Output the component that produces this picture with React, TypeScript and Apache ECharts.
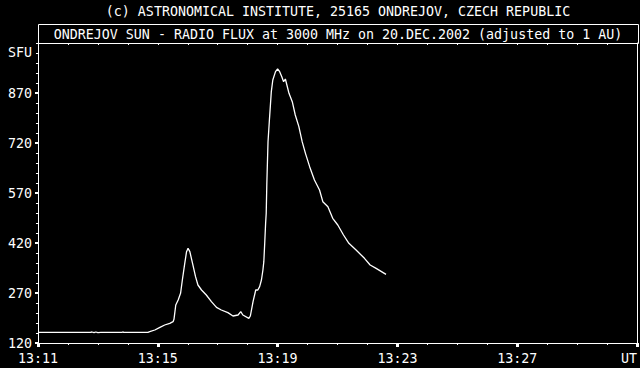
import React, { useEffect, useRef } from "react";
import * as echarts from "echarts";

const TITLE = "(c) ASTRONOMICAL INSTITUTE, 25165 ONDREJOV, CZECH REPUBLIC";
const SUBTITLE = "ONDREJOV SUN - RADIO FLUX at 3000 MHz on 20.DEC.2002 (adjusted to 1 AU)";
const Y_UNIT = "SFU";
const X_UNIT = "UT";

// minutes after 13:11 UT
const minutes = [
  0, 1, 1.75, 1.8, 1.87, 1.93, 2.0, 2.1, 2.8, 2.83, 2.87, 3.67, 3.73, 3.9, 4.07, 4.23, 4.4, 4.51,
  4.54, 4.6, 4.68, 4.76, 4.82, 4.9, 4.96, 5.01, 5.07, 5.16, 5.26, 5.34, 5.46, 5.62, 5.79, 5.96,
  6.12, 6.34, 6.51, 6.68, 6.77, 6.84, 7.04, 7.09, 7.18, 7.27, 7.34, 7.4, 7.46, 7.51, 7.54, 7.57,
  7.6, 7.62, 7.64, 7.68, 7.73, 7.79, 7.84, 7.93, 8.0, 8.07, 8.14, 8.2, 8.26, 8.31, 8.38, 8.49,
  8.59, 8.71, 8.82, 8.93, 9.07, 9.23, 9.4, 9.51, 9.68, 9.84, 10.01, 10.2, 10.38, 10.62, 10.9,
  11.09, 11.29, 11.62,
];
const flux = [
  152, 152, 152, 153, 151, 153, 151, 152, 152, 153, 152, 152, 154, 159, 167, 174, 179, 184,
  191, 234, 249, 269, 309, 359, 394, 404, 394, 359, 319, 294, 279, 264, 244, 227,
  219, 211, 201, 204, 214, 204, 194, 201, 244, 279, 279, 289, 309, 339, 364, 419,
  479, 509, 596, 724, 794, 874, 909, 934, 942, 934, 919, 904, 912, 894, 869, 844,
  804, 769, 724, 689, 649, 609, 579, 544, 529, 494, 474, 444, 419, 399, 374,
  354, 344, 326,
];
const yLabelValues = [120, 270, 420, 570, 720, 870];
const xLabelStartMinute = 11;

const FONT = "'DejaVu Sans Mono', 'Liberation Mono', monospace";
const FS = 13.3;

export default function App() {
  const ref = useRef<HTMLDivElement>(null);
  useEffect(() => {
    if (!ref.current) return;
    const chart = echarts.init(ref.current, null, { renderer: "svg" });
    const data = minutes.map((m, i) => [m, flux[i]]);
    chart.setOption({
      animation: false,
      backgroundColor: "#000000",
      textStyle: { fontFamily: FONT },
      grid: { left: 38, right: 2, top: 43, bottom: 25, containLabel: false },
      graphic: [
        {
          type: "text",
          x: 338,
          y: 11,
          style: { text: TITLE, fill: "#fff", font: `${FS}px ${FONT}`, align: "center", verticalAlign: "middle" },
        },
        {
          type: "rect",
          shape: { x: 38.5, y: 24.5, width: 600, height: 19 },
          style: { fill: "#000", stroke: "#fff", lineWidth: 1 },
        },
        {
          type: "text",
          x: 338,
          y: 34,
          style: { text: SUBTITLE, fill: "#fff", font: `${FS}px ${FONT}`, align: "center", verticalAlign: "middle" },
        },
        {
          type: "text",
          x: 32,
          y: 52,
          style: { text: Y_UNIT, fill: "#fff", font: `${FS}px ${FONT}`, align: "right", verticalAlign: "middle" },
        },
      ],
      xAxis: [
        {
          type: "value",
          min: 0,
          max: 20,
          interval: 4,
          position: "bottom",
          axisLine: { show: true, lineStyle: { color: "#fff", width: 1 } },
          axisTick: { show: true, length: 4, lineStyle: { color: "#fff", width: 3 } },
          minorTick: { show: true, splitNumber: 4, length: 2, lineStyle: { color: "#fff", width: 1 } },
          splitLine: { show: false },
          axisLabel: {
            color: "#fff",
            fontFamily: FONT,
            fontSize: FS,
            margin: 9,
            showMinLabel: true,
            showMaxLabel: true,
            alignMaxLabel: "right",
            formatter: (v: number) => (v === 20 ? X_UNIT : `13:${xLabelStartMinute + v}`),
          },
        },
        {
          type: "value",
          min: 0,
          max: 20,
          interval: 1,
          position: "top",
          axisLine: { show: true, lineStyle: { color: "#fff", width: 1 } },
          axisTick: { show: true, inside: true, length: 2, lineStyle: { color: "#fff", width: 1 } },
          axisLabel: { show: false },
          splitLine: { show: false },
        },
      ],
      yAxis: [
        {
          type: "value",
          min: 120,
          max: 1020,
          interval: 30,
          position: "left",
          axisLine: { show: true, lineStyle: { color: "#fff", width: 1 } },
          axisTick: { show: true, length: 2, lineStyle: { color: "#fff", width: 1 } },
          axisLabel: { show: false },
          splitLine: { show: false },
        },
        {
          type: "value",
          min: 120,
          max: 1020,
          position: "left",
          axisLine: { show: false },
          axisTick: { show: true, length: 3, customValues: yLabelValues, lineStyle: { color: "#fff", width: 2 } },
          axisLabel: {
            show: true,
            customValues: yLabelValues,
            color: "#fff",
            fontFamily: FONT,
            fontSize: FS,
            margin: 6,
          },
          splitLine: { show: false },
        },
        {
          type: "value",
          min: 120,
          max: 1020,
          position: "right",
          axisLine: { show: true, lineStyle: { color: "#fff", width: 1 } },
          axisTick: { show: false },
          axisLabel: { show: false },
          splitLine: { show: false },
        },
      ],
      series: [
        {
          type: "line",
          xAxisIndex: 0,
          yAxisIndex: 0,
          data,
          showSymbol: false,
          lineStyle: { color: "#fff", width: 1.3 },
        },
      ],
    });
    return () => chart.dispose();
  }, []);
  return (
    <div
      ref={ref}
      style={{ position: "fixed", left: 0, top: 0, width: 640, height: 368, background: "#000" }}
    />
  );
}
